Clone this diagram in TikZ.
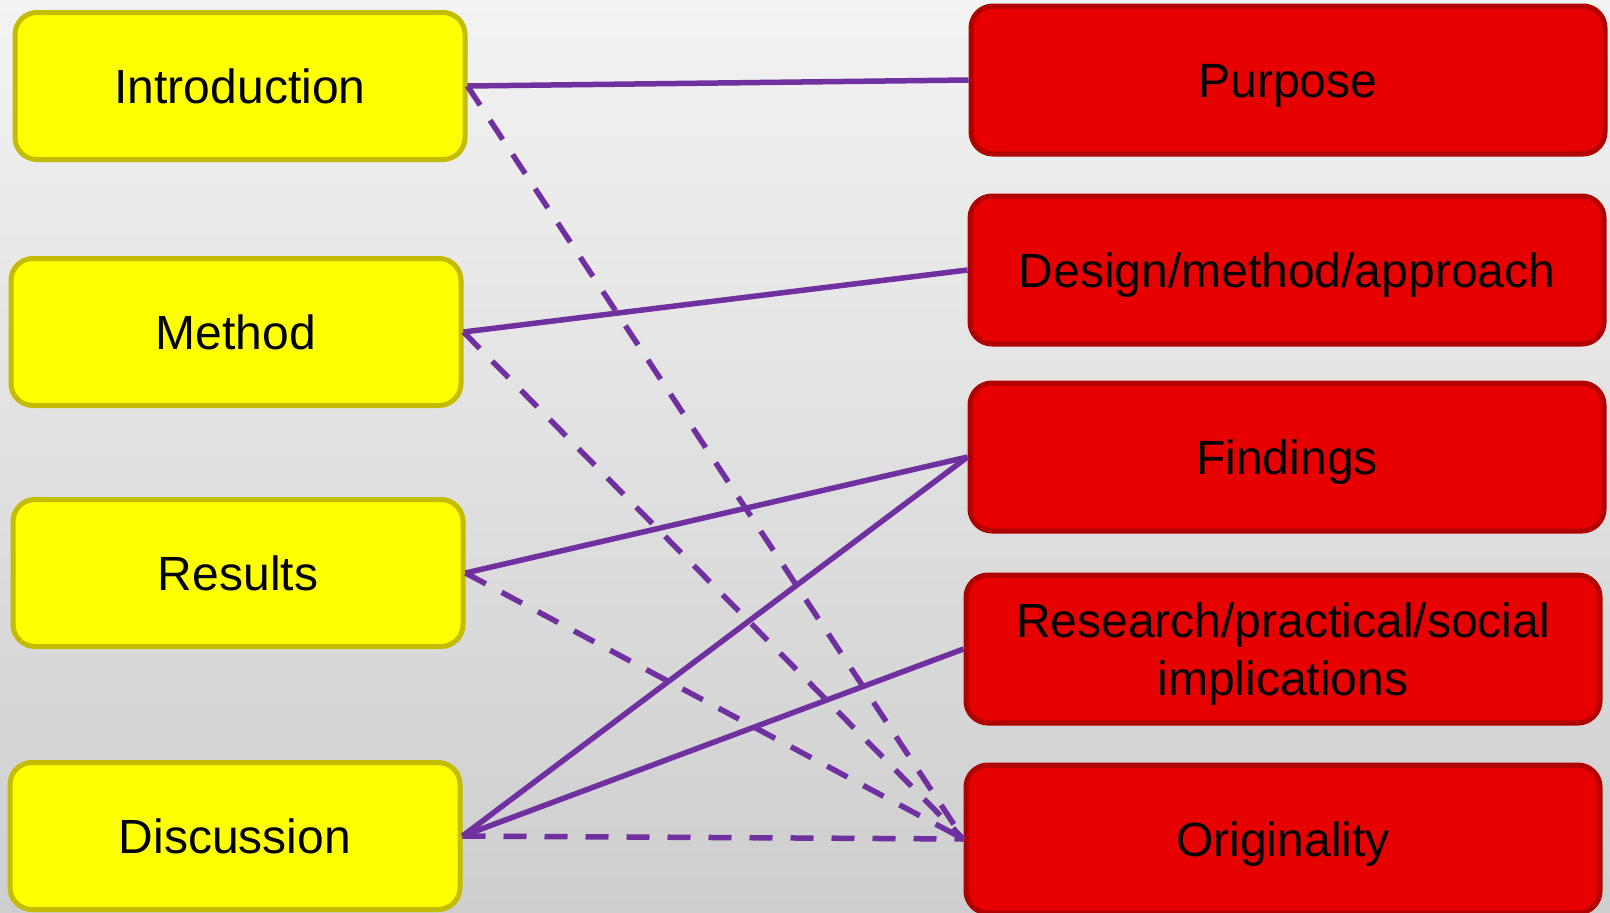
\documentclass[tikz,border=0pt]{standalone}
\usepackage{fontspec}
\setmainfont{Liberation Sans}
\definecolor{boxyellow}{RGB}{255,255,0}
\definecolor{boxolive}{RGB}{196,188,0}
\definecolor{boxred}{RGB}{230,0,0}
\definecolor{boxdarkred}{RGB}{176,0,0}
\definecolor{linkpurple}{RGB}{112,48,160}
\definecolor{bgtop}{RGB}{243,243,243}
\definecolor{bgbottom}{RGB}{206,206,206}
\begin{document}
\begin{tikzpicture}[x=1pt,y=-1pt,
    leftbox/.style={draw=boxolive, fill=boxyellow, line width=5pt, rounded corners=22pt,
        minimum width=450pt, minimum height=147pt, align=center,
        text height=40pt, text depth=6pt, font=\fontsize{48}{58}\selectfont},
    rightbox/.style={draw=boxdarkred, fill=boxred, line width=5pt, rounded corners=22pt,
        minimum width=634pt, minimum height=148pt, align=center,
        text height=40pt, text depth=6pt, font=\fontsize{48}{58}\selectfont},
    link/.style={draw=linkpurple, line width=5.5pt},
    linkdash/.style={link, dash pattern=on 23pt off 18pt}]
        %background
        \useasboundingbox (0,0) rectangle (1610,913);
        \shade[top color=bgtop, bottom color=bgbottom] (0,0) rectangle (1610,913);
        % left column
        \node[leftbox] (intro) at (240,86) {Introduction};
        \node[leftbox] (method) at (236,332) {Method};
        \node[leftbox] (results) at (238,573) {Results};
        \node[leftbox] (discussion) at (235,836) {Discussion};
        % right column
        \node[rightbox] (purpose) at (1288,80) {Purpose};
        \node[rightbox] (design) at (1287,270) {Design/method/approach};
        \node[rightbox] (findings) at (1287,457) {Findings};
        \node[rightbox, text height=98pt] (implications) at (1283,649) {Research/practical/social\\implications};
        \node[rightbox] (originality) at (1283,839) {Originality};

        % solid links
        \draw[link] (intro.east) -- (purpose.west);
        \draw[link] (method.east) -- (design.west);
        \draw[link] (results.east) -- (findings.west);
        \draw[link] (discussion.east) -- (findings.west);
        \draw[link] (discussion.east) -- (implications.west);
        % dashed links
        \draw[linkdash] (intro.east) -- (originality.west);
        \draw[linkdash] (method.east) -- (originality.west);
        \draw[linkdash] (results.east) -- (originality.west);
        \draw[linkdash] (discussion.east) -- (originality.west);
    \end{tikzpicture}
\end{document}
